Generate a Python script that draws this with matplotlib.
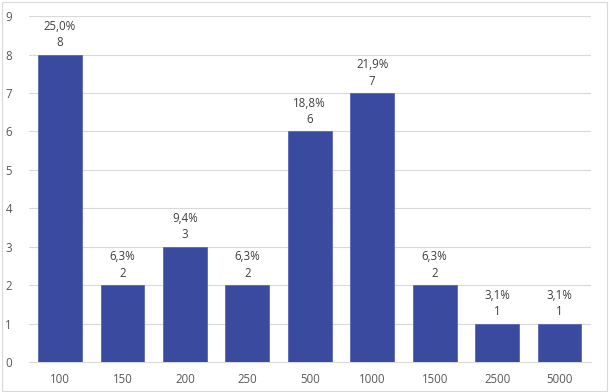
import matplotlib.pyplot as plt
import numpy as np

categories = ["100", "150", "200", "250", "500", "1000", "1500", "2500", "5000"]
counts = [8, 2, 3, 2, 6, 7, 2, 1, 1]
percents = ["25,0%", "6,3%", "9,4%", "6,3%", "18,8%", "21,9%", "6,3%", "3,1%", "3,1%"]

BAR_COLOR = "#3A4A9F"
TEXT_COLOR = "#404040"
TICK_COLOR = "#595959"
GRID_COLOR = "#D9D9D9"

plt.rcParams["font.family"] = ["Open Sans", "DejaVu Sans"]

fig = plt.figure(figsize=(6.11, 3.92), dpi=100)
ax = fig.add_axes([0.047, 0.0765, 0.92, 0.8825])

x = np.arange(len(categories))
ax.bar(x, counts, width=0.7, color=BAR_COLOR, edgecolor="#5A68B5", linewidth=0.6, zorder=3)

for xi, c, p in zip(x, counts, percents):
    ax.text(xi, c + 0.14, f"{p}\n{c}", ha="center", va="bottom",
            fontsize=8.3, color=TEXT_COLOR, linespacing=1.35)

ax.set_xlim(-0.5, len(categories) - 0.5)
ax.set_ylim(0, 9)
ax.set_yticks(range(0, 10))
ax.set_xticks(x)
ax.set_xticklabels(categories)
ax.yaxis.grid(True, color=GRID_COLOR, linewidth=0.8, zorder=0)
ax.tick_params(axis="both", length=0, labelsize=8.3, colors=TICK_COLOR)
ax.tick_params(axis="x", pad=8)
ax.tick_params(axis="y", pad=12)
for side in ["top", "right", "left"]:
    ax.spines[side].set_visible(False)
ax.spines["bottom"].set_color(GRID_COLOR)

border = plt.Rectangle((0.003, 0.003), 0.99, 0.992, transform=fig.transFigure,
                       fill=False, edgecolor="#D9D9D9", linewidth=0.8)
fig.patches.append(border)

fig.savefig("out.png", dpi=100)
